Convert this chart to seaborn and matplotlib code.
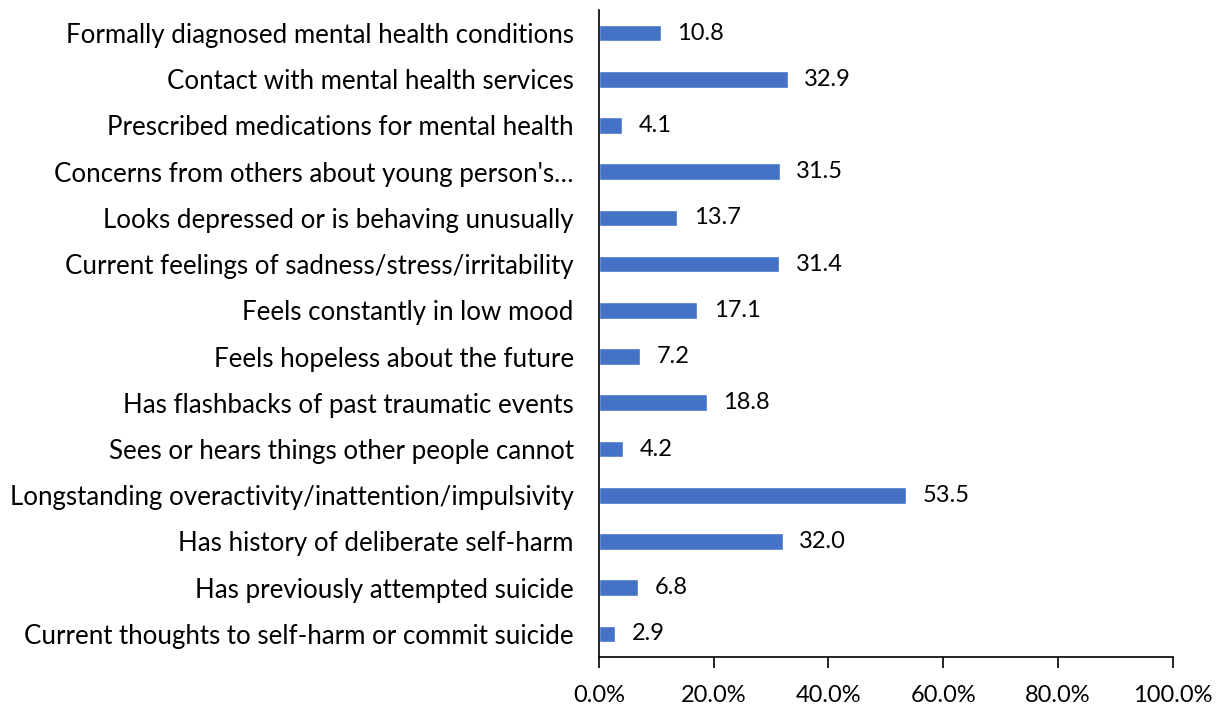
import matplotlib
matplotlib.use("Agg")
import matplotlib.pyplot as plt
import seaborn as sns
import pandas as pd
from matplotlib.ticker import FuncFormatter

categories = [
    "Formally diagnosed mental health conditions",
    "Contact with mental health services",
    "Prescribed medications for mental health",
    "Concerns from others about young person's\u2026",
    "Looks depressed or is behaving unusually",
    "Current feelings of sadness/stress/irritability",
    "Feels constantly in low mood",
    "Feels hopeless about the future",
    "Has flashbacks of past traumatic events",
    "Sees or hears things other people cannot",
    "Longstanding overactivity/inattention/impulsivity",
    "Has history of deliberate self-harm",
    "Has previously attempted suicide",
    "Current thoughts to self-harm or commit suicide",
]
values = [10.8, 32.9, 4.1, 31.5, 13.7, 31.4, 17.1, 7.2, 18.8, 4.2, 53.5, 32.0, 6.8, 2.9]
xticks = [0, 20, 40, 60, 80, 100]

df = pd.DataFrame({"category": categories, "value": values})

sns.set_theme(style="white")
plt.rcParams["font.family"] = ["Lato", "DejaVu Sans"]

FS = 17
FS_Y = 18.6

fig = plt.figure(figsize=(12.27, 7.08), dpi=100)
ax = fig.add_axes([0.488, 0.072, 0.468, 0.914])

sns.barplot(data=df, y="category", x="value", orient="h", color="#4472C4",
            saturation=1, width=0.36, ax=ax)

for i, v in enumerate(values):
    ax.text(v + 2.9, i, f"{v:.1f}", va="center", ha="left", fontsize=FS, color="black")

ax.set_xlim(0, 100)
ax.set_ylim(13.5, -0.5)
ax.set_xticks(xticks)
ax.xaxis.set_major_formatter(FuncFormatter(lambda x, p: f"{x:.1f}%"))
ax.set_xlabel("")
ax.set_ylabel("")
for s in ["top", "right"]:
    ax.spines[s].set_visible(False)
for s in ["left", "bottom"]:
    ax.spines[s].set_color("black")
    ax.spines[s].set_linewidth(1.2)
ax.tick_params(axis="x", direction="out", length=8, width=1.2, color="black",
               labelsize=FS, pad=12, bottom=True)
ax.tick_params(axis="y", length=0, labelsize=FS_Y, pad=18)
for lbl in ax.get_yticklabels() + ax.get_xticklabels():
    lbl.set_color("black")

fig.savefig("out.png", dpi=100)
